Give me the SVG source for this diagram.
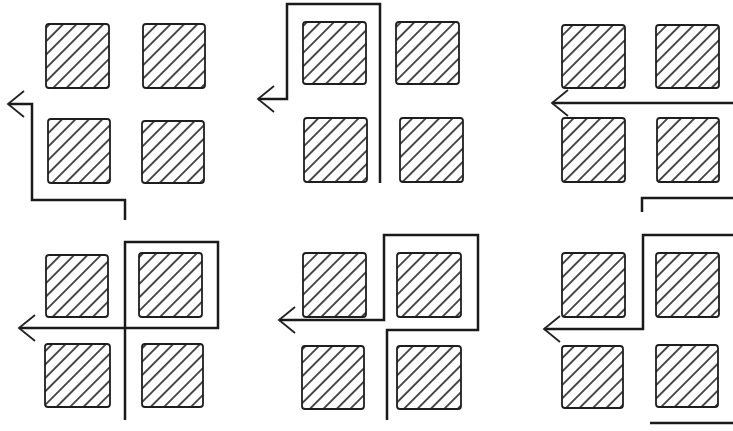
<svg xmlns="http://www.w3.org/2000/svg" width="733" height="431" viewBox="0 0 733 431">
<defs>
<pattern id="hatch" patternUnits="userSpaceOnUse" width="9.5" height="9.5" patternTransform="rotate(-45)">
<line x1="0" y1="4.75" x2="9.5" y2="4.75" stroke="#222" stroke-width="1.6"/>
</pattern>
<marker id="arr" markerUnits="userSpaceOnUse" viewBox="-18 -15 20 30" markerWidth="20" markerHeight="30" refX="0" refY="0" orient="auto">
<path d="M-16 -13 L0 0 L-16 13" fill="none" stroke="#222" stroke-width="1.8"/>
</marker>
<style>
.sq{fill:url(#hatch);stroke:#1e1e1e;stroke-width:1.8}
.ln{fill:none;stroke:#1a1a1a;stroke-width:2.5;stroke-linejoin:miter}
.ar{marker-end:url(#arr)}
</style>
</defs>
<rect width="733" height="431" fill="#fff"/>
<g id="panel1">
<rect id="p1-tl" class="sq" x="46" y="24" width="63" height="64" rx="3"/>
<rect id="p1-tr" class="sq" x="143" y="24" width="62" height="64" rx="3"/>
<rect id="p1-bl" class="sq" x="48" y="119" width="62" height="64" rx="3"/>
<rect id="p1-br" class="sq" x="142" y="121" width="62" height="62" rx="3"/>
</g>
<g id="panel2">
<rect id="p2-tl" class="sq" x="303" y="22" width="63" height="62" rx="3"/>
<rect id="p2-tr" class="sq" x="396" y="22" width="63" height="62" rx="3"/>
<rect id="p2-bl" class="sq" x="304" y="118" width="63" height="64" rx="3"/>
<rect id="p2-br" class="sq" x="400" y="118" width="63" height="64" rx="3"/>
</g>
<g id="panel3">
<rect id="p3-tl" class="sq" x="562" y="25" width="63" height="63" rx="3"/>
<rect id="p3-tr" class="sq" x="656" y="25" width="63" height="63" rx="3"/>
<rect id="p3-bl" class="sq" x="562" y="118" width="63" height="64" rx="3"/>
<rect id="p3-br" class="sq" x="657" y="118" width="62" height="64" rx="3"/>
</g>
<g id="panel4">
<rect id="p4-tl" class="sq" x="46" y="255" width="62" height="62" rx="3"/>
<rect id="p4-tr" class="sq" x="139" y="253" width="63" height="64" rx="3"/>
<rect id="p4-bl" class="sq" x="45" y="344" width="65" height="63" rx="3"/>
<rect id="p4-br" class="sq" x="142" y="344" width="61" height="63" rx="3"/>
</g>
<g id="panel5">
<rect id="p5-tl" class="sq" x="303" y="253" width="63" height="64" rx="3"/>
<rect id="p5-tr" class="sq" x="397" y="253" width="64" height="64" rx="3"/>
<rect id="p5-bl" class="sq" x="302" y="346" width="62" height="63" rx="3"/>
<rect id="p5-br" class="sq" x="397" y="346" width="64" height="63" rx="3"/>
</g>
<g id="panel6">
<rect id="p6-tl" class="sq" x="562" y="253" width="63" height="64" rx="3"/>
<rect id="p6-tr" class="sq" x="656" y="253" width="63" height="64" rx="3"/>
<rect id="p6-bl" class="sq" x="562" y="346" width="61" height="62" rx="3"/>
<rect id="p6-br" class="sq" x="656" y="345" width="62" height="62" rx="3"/>
</g>
<g id="connectors">
<path class="ln ar" d="M125 220 V200 H32 V104 H8"/>
<path class="ln ar" d="M380 183 V4 H287 V99 H258"/>
<path class="ln ar" d="M733 103 H552"/>
<path class="ln" d="M642 212 V198 H733"/>
<path class="ln ar" d="M125 420 V242 H218 V328 H19"/>
<path class="ln ar" d="M387 420 V330 H478 V235 H384 V320 H279"/>
<path class="ln ar" d="M733 235 H643 V329 H544"/>
<path class="ln" d="M650 423 H733"/>
</g>
</svg>
